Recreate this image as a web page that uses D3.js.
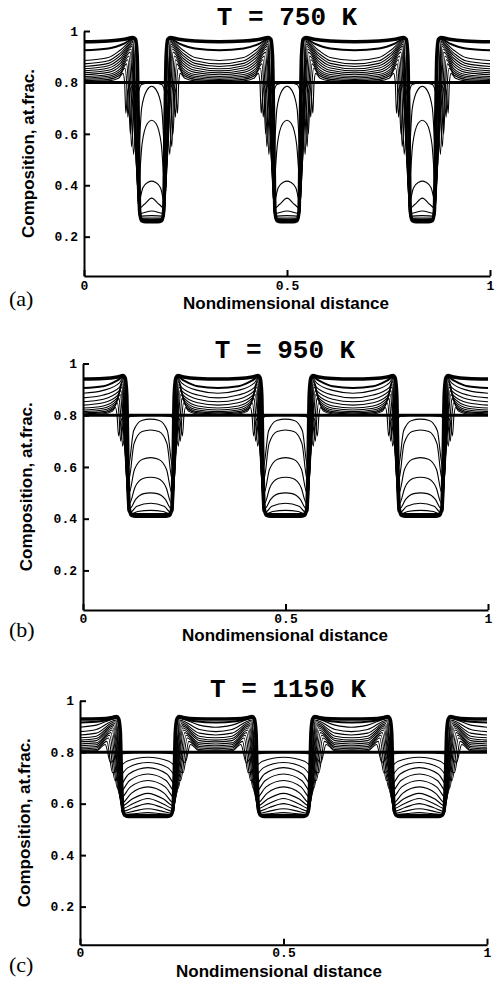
<!DOCTYPE html>
<html>
<head>
<meta charset="utf-8">
<script src="https://cdn.jsdelivr.net/npm/d3@7"></script>
<style>
body { margin: 0; background: #fff; }
svg { display: block; }
</style>
</head>
<body>
<svg width="497" height="982"></svg>
<script>
let temps = [750, 950, 1150];
let tags = ["(a)", "(b)", "(c)"];
let xTicks = [0, 0.5, 1];
let yTicks = [0.2, 0.4, 0.6, 0.8, 1];
let startLevel = 0.8;
let cell = 1 / 3; // the profile repeats three times across the domain

// half-cell profiles, [distance, composition]: 0 = matrix centre, 0.1667 = precipitate centre
let thin750 = [
	[[0,.803],[.06,.806],[.085,.816],[.096,.835],[.1,.8],[.103,.68],[.108,.77],[.118,.798],[.1667,.8]],
	[[0,.807],[.06,.812],[.088,.828],[.101,.855],[.105,.8],[.108,.665],[.114,.77],[.124,.798],[.1667,.8]],
	[[0,.812],[.06,.818],[.09,.838],[.105,.872],[.109,.8],[.114,.6],[.121,.75],[.132,.797],[.1667,.8]],
	[[0,.817],[.06,.824],[.09,.846],[.108,.888],[.112,.8],[.117,.55],[.125,.74],[.136,.795],[.1667,.8]],
	[[0,.823],[.06,.831],[.09,.855],[.111,.903],[.116,.78],[.122,.52],[.13,.72],[.142,.792],[.1667,.8]],
	[[0,.83],[.06,.839],[.09,.865],[.114,.918],[.12,.76],[.131,.45],[.142,.7],[.155,.77],[.1667,.785]],
	[[0,.837],[.06,.847],[.09,.875],[.116,.93],[.123,.72],[.133,.38],[.143,.56],[.156,.64],[.1667,.653]],
	[[0,.845],[.06,.856],[.09,.885],[.118,.94],[.125,.68],[.134,.33],[.145,.39],[.158,.412],[.1667,.416]],
	[[0,.853],[.06,.865],[.09,.895],[.119,.948],[.127,.62],[.135,.31],[.148,.325],[.1667,.35]],
	[[0,.862],[.06,.874],[.09,.905],[.12,.955],[.128,.58],[.136,.29],[.1667,.3]],
	[[0,.872],[.06,.884],[.09,.915],[.121,.96],[.129,.55],[.136,.28],[.1667,.282]],
	[[0,.885],[.06,.897],[.09,.926],[.122,.965],[.13,.52],[.137,.272],[.1667,.272]]
];
let late750 = [[0,.925],[.06,.932],[.1,.952],[.122,.97],[.128,.95],[.132,.6],[.136,.3],[.141,.268],[.1667,.265]];
let final750 = [[0,.958],[.06,.961],[.1,.968],[.121,.975],[.127,.968],[.131,.9],[.134,.6],[.137,.3],[.142,.262],[.152,.258],[.1667,.258]];

let thin950 = [
	[[0,.802],[.05,.805],[.072,.815],[.08,.83],[.084,.8],[.088,.72],[.094,.78],[.104,.798],[.1667,.8]],
	[[0,.805],[.05,.809],[.075,.825],[.085,.848],[.089,.8],[.093,.70],[.1,.775],[.11,.797],[.1667,.8]],
	[[0,.809],[.05,.814],[.078,.835],[.089,.865],[.093,.8],[.098,.68],[.106,.77],[.118,.796],[.1667,.8]],
	[[0,.814],[.05,.82],[.08,.845],[.092,.88],[.1,.74],[.112,.6],[.125,.74],[.145,.78],[.1667,.785]],
	[[0,.82],[.05,.827],[.082,.855],[.094,.895],[.102,.7],[.113,.55],[.126,.69],[.146,.737],[.1667,.743]],
	[[0,.828],[.05,.836],[.084,.866],[.096,.908],[.104,.66],[.114,.5],[.127,.59],[.147,.63],[.1667,.636]],
	[[0,.839],[.05,.848],[.086,.878],[.097,.92],[.105,.62],[.115,.46],[.128,.52],[.148,.555],[.1667,.56]],
	[[0,.852],[.05,.862],[.088,.892],[.098,.93],[.106,.6],[.116,.44],[.13,.475],[.15,.497],[.1667,.5]],
	[[0,.867],[.05,.878],[.09,.908],[.099,.938],[.107,.58],[.117,.425],[.133,.448],[.1667,.46]],
	[[0,.885],[.05,.896],[.09,.925],[.1,.945],[.108,.55],[.118,.418],[.135,.428],[.1667,.432]]
];
let late950 = [[0,.905],[.05,.912],[.085,.935],[.099,.948],[.104,.93],[.108,.6],[.112,.43],[.125,.418],[.1667,.418]];
let final950 = [[0,.94],[.05,.942],[.085,.948],[.099,.953],[.104,.945],[.108,.88],[.111,.6],[.114,.44],[.12,.413],[.13,.41],[.1667,.41]];

let thin1150 = [
	[[0,.804],[.04,.805],[.062,.83],[.075,.76],[.095,.792],[.1667,.8]],
	[[0,.808],[.04,.81],[.066,.842],[.08,.72],[.115,.765],[.1667,.78]],
	[[0,.813],[.04,.816],[.07,.855],[.086,.69],[.118,.74],[.1667,.76]],
	[[0,.819],[.04,.822],[.073,.866],[.092,.66],[.12,.715],[.1667,.74]],
	[[0,.825],[.04,.829],[.076,.876],[.096,.64],[.122,.69],[.1667,.715]],
	[[0,.832],[.04,.836],[.079,.886],[.099,.62],[.124,.665],[.1667,.69]],
	[[0,.84],[.04,.845],[.081,.895],[.101,.6],[.126,.64],[.1667,.665]],
	[[0,.847],[.04,.853],[.083,.903],[.102,.59],[.128,.618],[.1667,.64]],
	[[0,.856],[.04,.862],[.085,.911],[.103,.58],[.13,.6],[.1667,.62]],
	[[0,.867],[.04,.874],[.087,.918],[.104,.57],[.132,.585],[.1667,.6]],
	[[0,.88],[.04,.888],[.088,.924],[.105,.562],[.135,.572],[.1667,.58]],
	[[0,.897],[.04,.905],[.089,.93],[.106,.557],[.138,.562],[.1667,.565]]
];
let late1150 = [[0,.915],[.05,.92],[.08,.93],[.09,.935],[.096,.9],[.1,.7],[.104,.57],[.112,.557],[.1667,.556]];
let final1150 = [[0,.929],[.05,.93],[.08,.935],[.09,.938],[.095,.93],[.099,.88],[.102,.7],[.105,.58],[.11,.555],[.12,.55],[.1667,.55]];

// page layout of the three frames
let panels = [
	{thin: thin750, late: late750, fin: final750, left: 84, right: 490, top: 31, bottom: 276, yMin: 0.047,
		titleY: 25, titleX: 287, labelY: 309, labelX: 286, tagY: 306, yLabX: 34, pad: 5},
	{thin: thin950, late: late950, fin: final950, left: 83, right: 488, top: 363.5, bottom: 610, yMin: 0.047,
		titleY: 358, titleX: 285, labelY: 641, labelX: 285, tagY: 637, yLabX: 32, pad: 4},
	{thin: thin1150, late: late1150, fin: final1150, left: 80, right: 487, top: 700.7, bottom: 944.7, yMin: 0.052,
		titleY: 697, titleX: 288, labelY: 977, labelX: 279, tagY: 972, yLabX: 30, pad: 3}
];

// mirror the half-cell and repeat it over the three cells
function expand(half) {
	let one = half.concat(half.slice(0, -1).reverse().map(([x, y]) => [cell - x, y]));
	let out = [];
	for (let k = 0; k < 3; k++) {
		one.forEach(([x, y], i) => {
			if (k > 0 && i === 0) return;
			out.push([x + k * cell, y]);
		});
	}
	return out;
}

let svg = d3.select("svg");

panels.forEach((p, i) => {
	let x = d3.scaleLinear().domain([0, 1]).range([p.left, p.right]);
	let y = d3.scaleLinear().domain([p.yMin, 1]).range([p.bottom, p.top]);
	let line = d3.line()
		.x(d => x(d[0]))
		.y(d => y(d[1]))
		.curve(d3.curveMonotoneX);

	let g = svg.append("g");

	g.append("g")
		.attr("fill", "none")
		.attr("stroke", "#000")
		.attr("stroke-width", 1.1)
		.selectAll("path").data(p.thin).enter().append("path")
		.attr("d", d => line(expand(d)));

	g.append("path")
		.attr("fill", "none").attr("stroke", "#000").attr("stroke-width", 3)
		.attr("d", line([[0, startLevel], [1, startLevel]]));

	g.append("path")
		.attr("fill", "none").attr("stroke", "#000").attr("stroke-width", 2)
		.attr("d", line(expand(p.late)));

	g.append("path")
		.attr("fill", "none").attr("stroke", "#000").attr("stroke-width", 3.6)
		.attr("d", line(expand(p.fin)));

	g.append("g")
		.attr("transform", `translate(${p.left},0)`)
		.call(d3.axisLeft(y).tickValues(yTicks).tickSizeInner(-6).tickSizeOuter(0).tickPadding(6)
			.tickFormat(d => d === 1 ? "1" : d.toFixed(1)))
		.call(a => a.select(".domain").attr("stroke-width", 2))
		.call(a => a.selectAll(".tick line").attr("stroke-width", 2))
		.call(a => a.selectAll("text").attr("font-family", "Liberation Mono, monospace")
			.attr("font-weight", "bold").attr("font-size", 13).attr("fill", "#000"));

	g.append("g")
		.attr("transform", `translate(0,${p.bottom})`)
		.call(d3.axisBottom(x).tickValues(xTicks).tickSizeInner(-6).tickSizeOuter(0).tickPadding(p.pad)
			.tickFormat(d => String(d)))
		.call(a => a.select(".domain").attr("stroke-width", 2))
		.call(a => a.selectAll(".tick line").attr("stroke-width", 2))
		.call(a => a.selectAll("text").attr("font-family", "Liberation Mono, monospace")
			.attr("font-weight", "bold").attr("font-size", 13).attr("fill", "#000"));

	g.append("text")
		.attr("x", p.titleX).attr("y", p.titleY)
		.attr("text-anchor", "middle")
		.attr("font-family", "Liberation Mono, monospace")
		.attr("font-weight", "bold").attr("font-size", 26)
		.text(`T = ${temps[i]} K`);

	g.append("text")
		.attr("x", p.labelX).attr("y", p.labelY)
		.attr("text-anchor", "middle")
		.attr("font-family", "Liberation Sans, Arial, sans-serif")
		.attr("font-weight", "bold").attr("font-size", 17)
		.text("Nondimensional distance");

	g.append("text")
		.attr("transform", `translate(${p.yLabX},${(p.top + p.bottom) / 2}) rotate(-90)`)
		.attr("text-anchor", "middle")
		.attr("font-family", "Liberation Sans, Arial, sans-serif")
		.attr("font-weight", "bold").attr("font-size", 17)
		.text("Composition,  at.frac.");

	g.append("text")
		.attr("x", 9).attr("y", p.tagY)
		.attr("font-family", "Liberation Serif, Times New Roman, serif")
		.attr("font-size", 22)
		.text(tags[i]);
});
</script>
</body>
</html>
